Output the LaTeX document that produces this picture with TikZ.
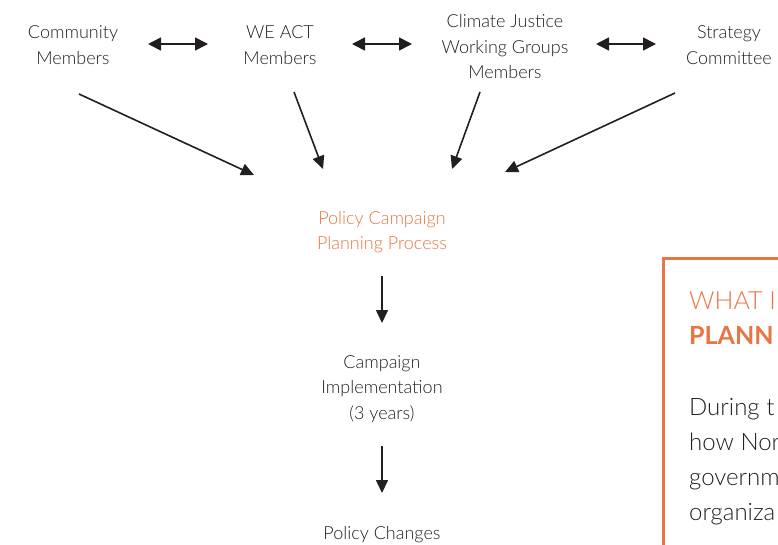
\documentclass[tikz,border=0pt]{standalone}
\usepackage{fontspec}
\IfFontExistsTF{Lato Light}{\setmainfont{Lato Light}}{\setmainfont{Lato}}
\IfFontExistsTF{Lato Black}{\newfontfamily\headfont{Lato Black}}{\newfontfamily\headfont{Lato}}
\usetikzlibrary{calc,arrows.meta}

\definecolor{weorange}{RGB}{232,117,66}
\definecolor{inkblack}{RGB}{35,31,32}

\begin{document}
\begin{tikzpicture}[x=1pt,y=-1pt,
    lbl/.style={align=center, inner sep=0pt, text=inkblack,
        font=\fontsize{18}{25.5}\selectfont},
    arr/.style={-{Triangle[length=13pt,width=12pt]}, line width=1.6pt, draw=inkblack},
    dbl/.style={{Triangle[length=13pt,width=13pt]}-{Triangle[length=13pt,width=13pt]}, line width=1.6pt, draw=inkblack}]
        \useasboundingbox (0,0) rectangle (778,544);
        \clip (0,0) rectangle (778,544);

        % Groups on top
        \node[lbl] (comm) at (73,45) {Community\\Members};
        \node[lbl] (weact) at (280,45) {WE ACT\\Members};
        \node[lbl] (climate) at (505,47) {Climate Justice\\Working Groups\\Members};
        \node[lbl] (strat) at (729,45) {Strategy\\Committee};

        % Two-way links between the groups
        \draw[dbl] ($(comm)+(75,-1)$) -- ($(weact)+(-72,-1)$);
        \draw[dbl] ($(weact)+(72,-1)$) -- ($(climate)+(-93,-3)$);
        \draw[dbl] ($(climate)+(91,-3)$) -- ($(strat)+(-73,-1)$);

        % Process steps
        \node[lbl, text=weorange] (plan) at (382,232) {Policy Campaign\\Planning Process};
        \node[lbl] (impl) at (382,389) {Campaign\\Implementation\\(3 years)};
        \node[lbl] (chg) at (382,535) {Policy Changes};

        % Inputs to planning
        \draw[arr] ($(comm)+(6,49)$) -- ($(plan)+(-128,-57)$);
        \draw[arr] ($(weact)+(14,47)$) -- ($(plan)+(-59,-63)$);
        \draw[arr] ($(climate)+(-25,45)$) -- ($(plan)+(70,-63)$);
        \draw[arr] ($(strat)+(-54,48)$) -- ($(plan)+(123,-60)$);

        % Down the steps
        \draw[arr] ($(plan)+(0,44)$) -- ($(impl)+(0,-66)$);
        \draw[arr] ($(impl)+(0,57)$) -- ($(chg)+(0,-42)$);

        % Side box
        \draw[weorange, line width=3pt] (663,258) rectangle (820,600);
        \node[anchor=base west, inner sep=0pt, align=left, text=weorange,
            font=\fontsize{25}{35}\selectfont] (boxhead) at (689,344)
            {WHAT I\\{\headfont\bfseries PLANN}};
        \node[anchor=base west, inner sep=0pt, align=left, text=inkblack,
            font=\fontsize{24}{35}\selectfont] (boxbody) at (689,520)
            {During t\\how Nor\\governm\\organiza};
\end{tikzpicture}
\end{document}
